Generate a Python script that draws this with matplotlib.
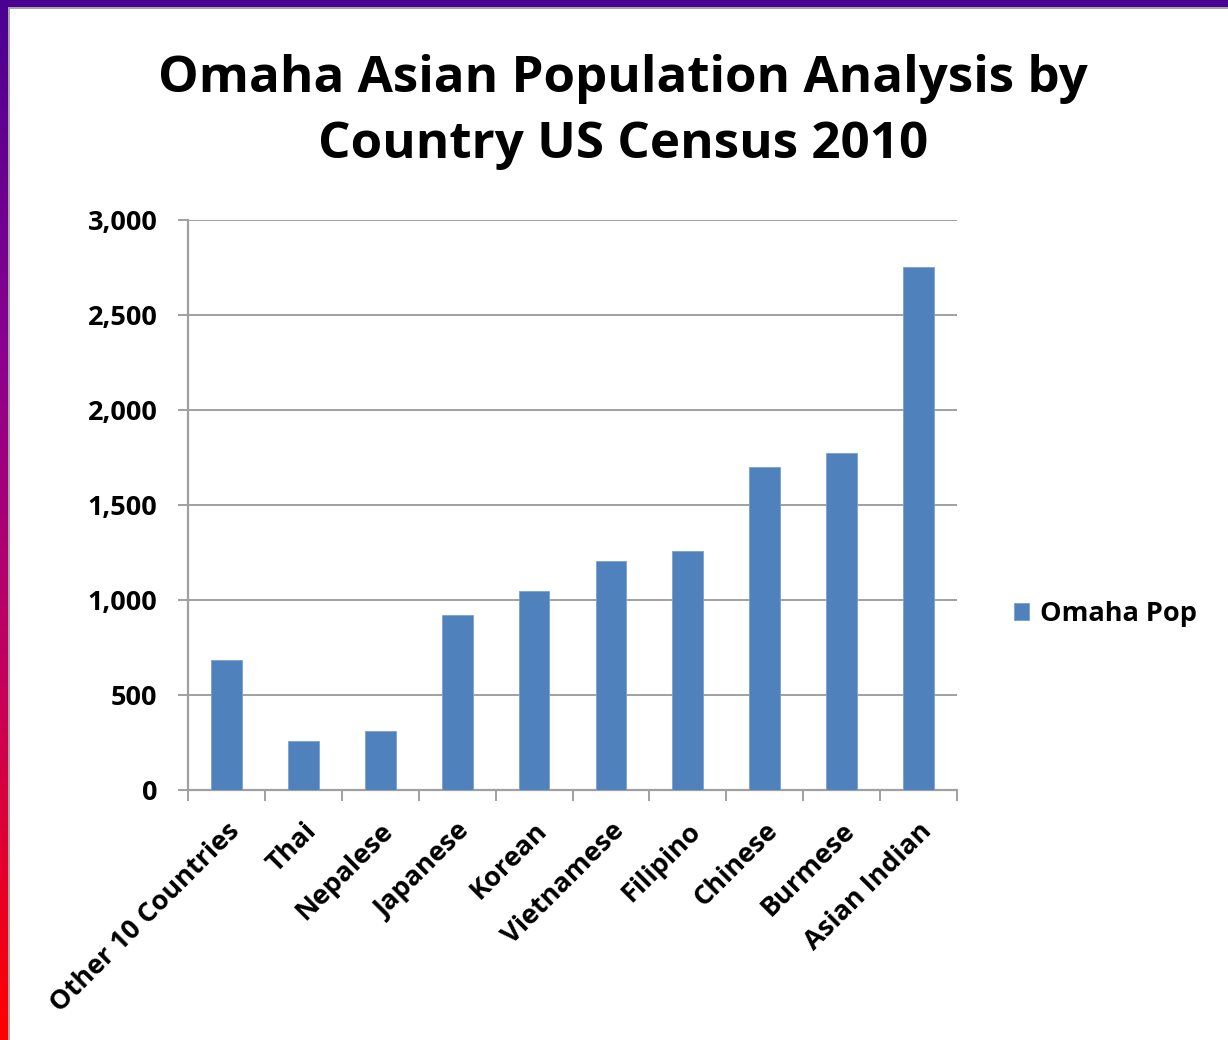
import matplotlib
matplotlib.use("Agg")
import matplotlib.pyplot as plt
import numpy as np
from matplotlib.patches import Rectangle
from matplotlib.ticker import FuncFormatter, FixedLocator
from matplotlib.colors import LinearSegmentedColormap

categories = ["Other 10 Countries", "Thai", "Nepalese", "Japanese", "Korean",
              "Vietnamese", "Filipino", "Chinese", "Burmese", "Asian Indian"]
values = [684, 258, 310, 921, 1047, 1205, 1258, 1700, 1774, 2753]
series_name = "Omaha Pop"
title = "Omaha Asian Population Analysis by\nCountry US Census 2010"
yticks = [0, 500, 1000, 1500, 2000, 2500, 3000]

W, H = 1228, 1040
fig = plt.figure(figsize=(W / 100, H / 100), dpi=100)
fig.patch.set_facecolor("white")

# decorative border: top purple band, left purple->red gradient
grad = np.linspace(0, 1, 256).reshape(-1, 1)
cmap = LinearSegmentedColormap.from_list("pr", ["#4a0090", "#8a0090", "#c8005a", "#ff0000"])
axb = fig.add_axes([0, 0, 8 / W, 1])
axb.imshow(grad, aspect="auto", cmap=cmap, extent=[0, 1, 0, 1], origin="upper")
axb.axis("off")
fig.patches.append(Rectangle((0, 1 - 7 / H), 1, 7 / H, transform=fig.transFigure,
                             facecolor="#4a0090", edgecolor="none", zorder=5))
fig.patches.append(Rectangle((8 / W, 0), 2 / W, 1 - 7 / H, transform=fig.transFigure,
                             facecolor="#a6a6a6", edgecolor="none", zorder=5))
fig.patches.append(Rectangle((8 / W, 1 - 9 / H), 1 - 8 / W, 2 / H, transform=fig.transFigure,
                             facecolor="#a6a6a6", edgecolor="none", zorder=5))

font = "Open Sans"
fig.text(623 / W, 1 - 112 / H, title, ha="center", va="center", fontsize=36.8,
         fontweight="bold", family=font, linespacing=1.4)

ax = fig.add_axes([188 / W, 1 - 790 / H, (957 - 188) / W, (790 - 220) / H])
x = np.arange(len(categories))
bars = ax.bar(x, values, width=0.4, color="#4f81bd", edgecolor="#7aa0cf",
              linewidth=0.6, label=series_name, zorder=3)
ax.set_xlim(-0.5, len(categories) - 0.5)
ax.set_ylim(0, 3000)
ax.set_yticks(yticks)
ax.yaxis.set_major_formatter(FuncFormatter(lambda v, p: f"{int(v):,}"))
ax.grid(axis="y", color="#a0a0a0", linewidth=1.4, zorder=0)
for s in ["top", "right"]:
    ax.spines[s].set_visible(False)
for s in ["left", "bottom"]:
    ax.spines[s].set_color("#a0a0a0")
    ax.spines[s].set_linewidth(1.6)
ax.tick_params(axis="y", length=7, width=1.4, color="#a0a0a0", pad=15)
ax.set_yticklabels([f"{v:,}" for v in yticks], fontsize=19.5, fontweight="bold", family=font)

ax.set_xticks(x)
ax.set_xticklabels(categories, rotation=45, ha="right", rotation_mode="anchor",
                   fontsize=19.5, fontweight="bold", family=font)
ax.tick_params(axis="x", length=0, pad=20)
ax.xaxis.set_minor_locator(FixedLocator(np.arange(-0.5, len(categories), 1.0)))
ax.tick_params(axis="x", which="minor", length=8, width=1.4, color="#a0a0a0")

leg = fig.legend(handles=[bars], labels=[series_name], loc="center left",
                 bbox_to_anchor=(990 / W, 1 - 614 / H), frameon=False,
                 prop={"family": font, "weight": "bold", "size": 19.5},
                 handlelength=0.55, handleheight=0.55, handletextpad=0.4)

fig.savefig("out.png", dpi=100)
